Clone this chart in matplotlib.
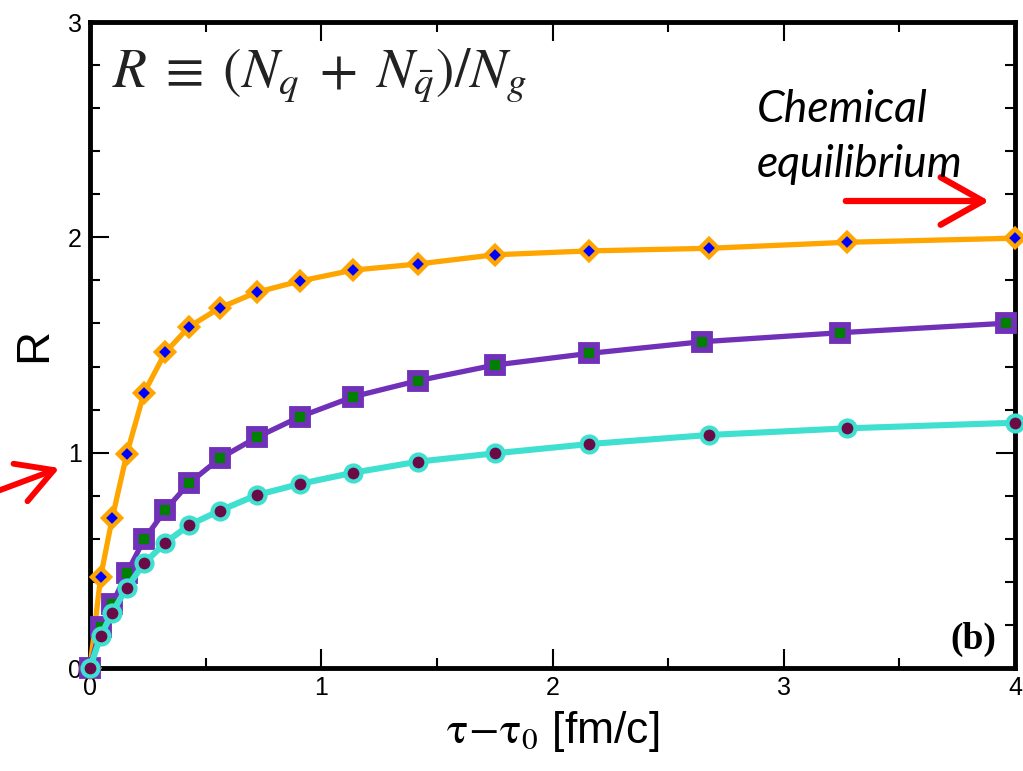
import numpy as np
import matplotlib.pyplot as plt
from matplotlib.patches import FancyArrowPatch
from matplotlib.ticker import MultipleLocator

plt.rcParams['mathtext.fontset'] = 'stix'
plt.rcParams['font.family'] = ['Liberation Sans', 'DejaVu Sans']

# values
tau = [0.0, 0.046, 0.096, 0.159, 0.234, 0.326, 0.429, 0.562, 0.721, 0.908,
       1.139, 1.417, 1.751, 2.158, 2.675, 3.272, 4.0]
tau_sq = [0.0, 0.046, 0.096, 0.159, 0.234, 0.326, 0.429, 0.562, 0.721, 0.908,
          1.139, 1.417, 1.751, 2.158, 2.645, 3.243, 3.96]
r_orange = [0.0, 0.424, 0.695, 0.994, 1.279, 1.466, 1.585, 1.673, 1.745, 1.797,
            1.848, 1.876, 1.919, 1.937, 1.949, 1.977, 1.996]
r_purple = [0.0, 0.19, 0.297, 0.44, 0.597, 0.734, 0.859, 0.974, 1.071, 1.167,
            1.26, 1.334, 1.407, 1.461, 1.515, 1.557, 1.601]
r_cyan = [0.0, 0.149, 0.257, 0.373, 0.486, 0.582, 0.664, 0.731, 0.803, 0.855,
          0.907, 0.958, 0.997, 1.040, 1.082, 1.113, 1.139]

fig = plt.figure(figsize=(10.23, 7.71), dpi=100)
ax = fig.add_axes([90/1023, 1-668/771, 925/1023, 646/771])

ax.plot(tau, r_orange, '-D', color='#FFA500', lw=3.8, ms=9.5, mfc='#0000FF',
        mec='#FFA500', mew=3.2, clip_on=False, zorder=3)
ax.plot(tau_sq, r_purple, '-s', color='#7030B8', lw=3.8, ms=11.5, mfc='#008000',
        mec='#7030B8', mew=4.2, clip_on=False, zorder=4)
ax.plot(tau, r_cyan, '-o', color='#40E0D0', lw=4.4, ms=11.5, mfc='#6A0A47',
        mec='#40E0D0', mew=3, clip_on=False, zorder=5)

ax.set_xlim(0, 4)
ax.set_ylim(0, 3)
ax.xaxis.set_major_locator(MultipleLocator(1))
ax.xaxis.set_minor_locator(MultipleLocator(0.5))
ax.yaxis.set_major_locator(MultipleLocator(1))
ax.yaxis.set_minor_locator(MultipleLocator(0.2))
ax.tick_params(which='both', direction='in', top=True, right=True, width=1.5,
               labelsize=18, pad=6)
ax.tick_params(which='major', length=14)
ax.tick_params(which='minor', length=7)
for s in ax.spines.values():
    s.set_linewidth(3.5)

ax.set_xlabel(r'$\mathrm{\tau}\!-\!\mathrm{\tau}_0$ [fm/c]', fontsize=32, labelpad=6)
ax.set_ylabel('R', fontsize=34, labelpad=8)

ax.text(0.024, 0.899, r'$R\;\equiv\;(N_q\;+\;N_{\bar{q}})/N_g$', transform=ax.transAxes,
        fontsize=40, va='baseline', ha='left', color='#222222')
ax.text(0.98, 0.017, '(b)', transform=ax.transAxes, fontsize=27, fontweight='bold',
        family='Liberation Serif', ha='right', va='bottom')

fig.text(757/1023, 1-122/771, 'Chemical', fontsize=32, style='italic',
         family='Lato', ha='left', va='baseline')
fig.text(757/1023, 1-177/771, 'equilibrium', fontsize=32, style='italic',
         family='Lato', ha='left', va='baseline')

arrow_style = '->,head_length=0.8,head_width=0.45'
fig.patches.append(FancyArrowPatch((843/1023, 1-201/771), (992/1023, 1-201/771),
                                   transform=fig.transFigure, arrowstyle=arrow_style,
                                   mutation_scale=38, color='red', lw=4.5,
                                   capstyle='round', joinstyle='round'))
fig.patches.append(FancyArrowPatch((-5/1023, 1-492/771), (62/1023, 1-467/771),
                                   transform=fig.transFigure, arrowstyle=arrow_style,
                                   mutation_scale=32, color='red', lw=4.2,
                                   capstyle='round', joinstyle='round'))

fig.savefig('out.png', dpi=100)
